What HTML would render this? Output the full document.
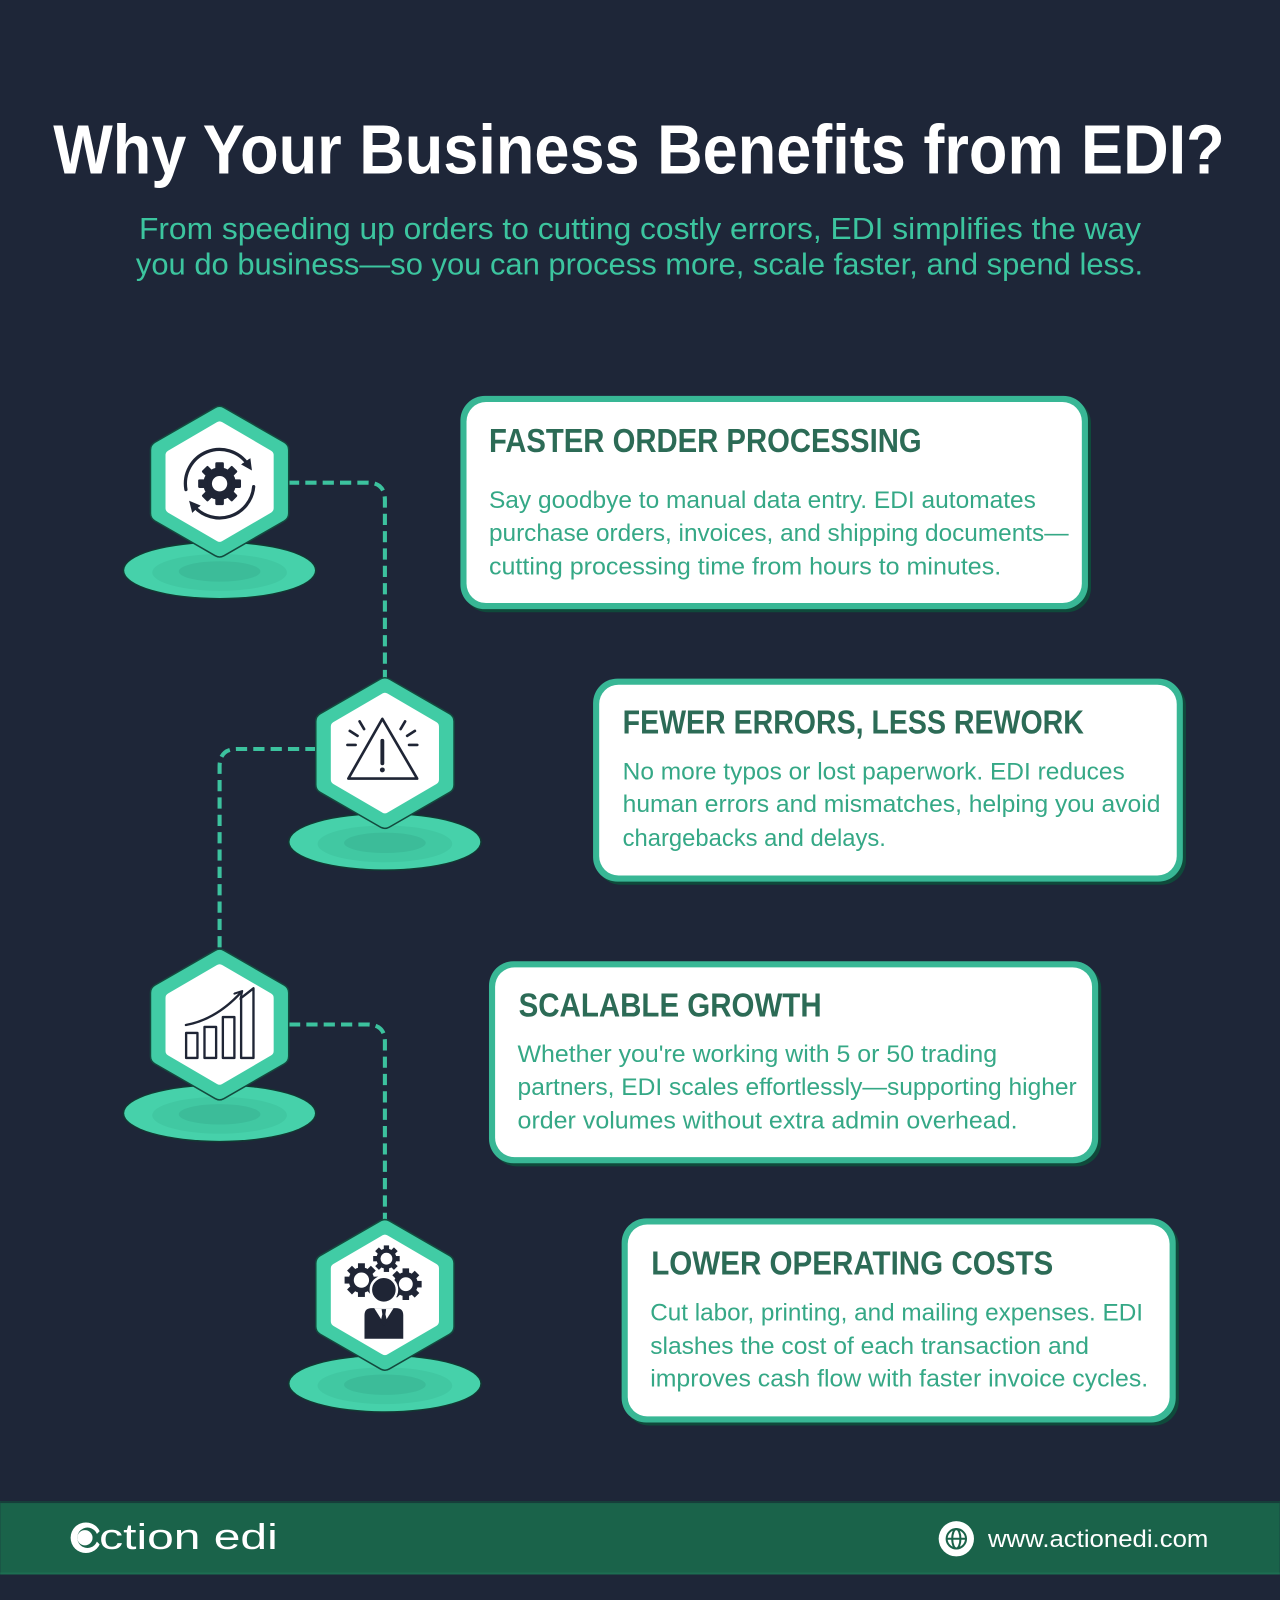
<!DOCTYPE html>
<html>
<head>
<meta charset="utf-8">
<style>
html,body{margin:0;padding:0;background:#1e2638;}
svg{display:block;}
</style>
</head>
<body>
<svg width="1280" height="1600" viewBox="0 0 1254 1568" xmlns="http://www.w3.org/2000/svg" font-family="'Liberation Sans', Arial, sans-serif">
<defs>
  <marker id="ah" markerUnits="userSpaceOnUse" markerWidth="11" markerHeight="11" refX="4" refY="5.5" orient="auto">
    <path d="M0,0 L11,5.5 L0,11 z" fill="#1f2535"/>
  </marker>
  <marker id="ah2" markerUnits="userSpaceOnUse" markerWidth="10" markerHeight="10" refX="7" refY="5" orient="auto">
    <path d="M1,1 L8,5 L1,9" fill="none" stroke="#1f2535" stroke-width="2" stroke-linejoin="round" stroke-linecap="round"/>
  </marker>
</defs>

<rect x="0" y="0" width="1254" height="1568" fill="#1e2638"/>

<!-- Title -->
<text x="52" y="170" font-size="68" font-weight="bold" fill="#ffffff" textLength="1148" lengthAdjust="spacingAndGlyphs">Why Your Business Benefits from EDI?</text>
<text x="136" y="234" font-size="30" fill="#3cc59f" textLength="982" lengthAdjust="spacingAndGlyphs">From speeding up orders to cutting costly errors, EDI simplifies the way</text>
<text x="133" y="269" font-size="30" fill="#3cc59f" textLength="987" lengthAdjust="spacingAndGlyphs">you do business—so you can process more, scale faster, and spend less.</text>

<!-- Connectors -->
<g fill="none" stroke="#3cc29e" stroke-width="4" stroke-dasharray="11 6">
  <path d="M282,473 H360 Q377,473 377,490 V664"/>
  <path d="M310,734 H232 Q215,734 215,751 V931"/>
  <path d="M283,1004 H360 Q377,1004 377,1021 V1196"/>
</g>

<!-- Node 1 -->
<g transform="translate(215,472)">
  <ellipse cx="0" cy="87" rx="95" ry="28.5" fill="#113a33"/>
  <ellipse cx="0" cy="87" rx="93.5" ry="27" fill="#46d1aa"/>
  <ellipse cx="0" cy="89" rx="66" ry="18" fill="#41c8a2"/>
  <ellipse cx="0" cy="88" rx="40" ry="10" fill="#3cbc99"/>
  <polygon points="0,-65 59,-31 59,31 0,65 -59,31 -59,-31" fill="#134a3e" stroke="#134a3e" stroke-width="19" stroke-linejoin="round"/>
  <polygon points="0,-65 59,-31 59,31 0,65 -59,31 -59,-31" fill="#41cca5" stroke="#41cca5" stroke-width="16" stroke-linejoin="round"/>
  <polygon points="0,-54 48,-26 48,26 0,54 -48,26 -48,-26" fill="#ffffff" stroke="#ffffff" stroke-width="10" stroke-linejoin="round"/>
</g>
<!-- Node 2 -->
<g transform="translate(377,738)">
  <ellipse cx="0" cy="87" rx="95" ry="28.5" fill="#113a33"/>
  <ellipse cx="0" cy="87" rx="93.5" ry="27" fill="#46d1aa"/>
  <ellipse cx="0" cy="89" rx="66" ry="18" fill="#41c8a2"/>
  <ellipse cx="0" cy="88" rx="40" ry="10" fill="#3cbc99"/>
  <polygon points="0,-65 59,-31 59,31 0,65 -59,31 -59,-31" fill="#134a3e" stroke="#134a3e" stroke-width="19" stroke-linejoin="round"/>
  <polygon points="0,-65 59,-31 59,31 0,65 -59,31 -59,-31" fill="#41cca5" stroke="#41cca5" stroke-width="16" stroke-linejoin="round"/>
  <polygon points="0,-54 48,-26 48,26 0,54 -48,26 -48,-26" fill="#ffffff" stroke="#ffffff" stroke-width="10" stroke-linejoin="round"/>
</g>
<!-- Node 3 -->
<g transform="translate(215,1004)">
  <ellipse cx="0" cy="87" rx="95" ry="28.5" fill="#113a33"/>
  <ellipse cx="0" cy="87" rx="93.5" ry="27" fill="#46d1aa"/>
  <ellipse cx="0" cy="89" rx="66" ry="18" fill="#41c8a2"/>
  <ellipse cx="0" cy="88" rx="40" ry="10" fill="#3cbc99"/>
  <polygon points="0,-65 59,-31 59,31 0,65 -59,31 -59,-31" fill="#134a3e" stroke="#134a3e" stroke-width="19" stroke-linejoin="round"/>
  <polygon points="0,-65 59,-31 59,31 0,65 -59,31 -59,-31" fill="#41cca5" stroke="#41cca5" stroke-width="16" stroke-linejoin="round"/>
  <polygon points="0,-54 48,-26 48,26 0,54 -48,26 -48,-26" fill="#ffffff" stroke="#ffffff" stroke-width="10" stroke-linejoin="round"/>
</g>
<!-- Node 4 -->
<g transform="translate(377,1269)">
  <ellipse cx="0" cy="87" rx="95" ry="28.5" fill="#113a33"/>
  <ellipse cx="0" cy="87" rx="93.5" ry="27" fill="#46d1aa"/>
  <ellipse cx="0" cy="89" rx="66" ry="18" fill="#41c8a2"/>
  <ellipse cx="0" cy="88" rx="40" ry="10" fill="#3cbc99"/>
  <polygon points="0,-65 59,-31 59,31 0,65 -59,31 -59,-31" fill="#134a3e" stroke="#134a3e" stroke-width="19" stroke-linejoin="round"/>
  <polygon points="0,-65 59,-31 59,31 0,65 -59,31 -59,-31" fill="#41cca5" stroke="#41cca5" stroke-width="16" stroke-linejoin="round"/>
  <polygon points="0,-54 48,-26 48,26 0,54 -48,26 -48,-26" fill="#ffffff" stroke="#ffffff" stroke-width="10" stroke-linejoin="round"/>
</g>

<!-- Icon 1: gear with circular arrows -->
<g fill="#1f2535">
  <g transform="translate(215,474)">
    <circle r="16"/>
    <rect x="-4.2" y="-21" width="8.4" height="9" rx="1.2"/>
    <rect x="-4.2" y="-21" width="8.4" height="9" rx="1.2" transform="rotate(45)"/>
    <rect x="-4.2" y="-21" width="8.4" height="9" rx="1.2" transform="rotate(90)"/>
    <rect x="-4.2" y="-21" width="8.4" height="9" rx="1.2" transform="rotate(135)"/>
    <rect x="-4.2" y="-21" width="8.4" height="9" rx="1.2" transform="rotate(180)"/>
    <rect x="-4.2" y="-21" width="8.4" height="9" rx="1.2" transform="rotate(225)"/>
    <rect x="-4.2" y="-21" width="8.4" height="9" rx="1.2" transform="rotate(270)"/>
    <rect x="-4.2" y="-21" width="8.4" height="9" rx="1.2" transform="rotate(315)"/>
    <circle r="7.5" fill="#ffffff"/>
  </g>
</g>
<g fill="none" stroke="#1f2535" stroke-width="3.2" stroke-linecap="round">
  <path d="M182.0,479.8 A33.5,33.5 0 0 1 242.8,455.3" marker-end="url(#ah)"/>
  <path d="M248.4,476.9 A33.5,33.5 0 0 1 189.7,496.0" marker-end="url(#ah)"/>
</g>

<!-- Icon 2: warning -->
<g fill="none" stroke="#1f2535" stroke-width="2.6" stroke-linecap="round" stroke-linejoin="round">
  <polygon points="374.5,704.5 341.2,763 408.6,763"/>
  <line x1="340.3" y1="730" x2="348.3" y2="730"/>
  <line x1="342.6" y1="716.3" x2="350.2" y2="721.1"/>
  <line x1="352.2" y1="707" x2="356.6" y2="714.5"/>
  <line x1="400.7" y1="730" x2="408.7" y2="730"/>
  <line x1="398.8" y1="721.1" x2="406.4" y2="716.3"/>
  <line x1="392.4" y1="714.5" x2="396.8" y2="707"/>
  <line x1="374.5" y1="726" x2="374.5" y2="748" stroke-width="3.8"/>
</g>
<circle cx="374.5" cy="754.5" r="2.4" fill="#1f2535"/>

<!-- Icon 3: chart -->
<g fill="none" stroke="#1f2535" stroke-width="2.3" stroke-linejoin="round">
  <rect x="182.2" y="1012.3" width="11.1" height="24.5"/>
  <rect x="200.2" y="1006.4" width="11.4" height="30.4"/>
  <rect x="218.2" y="996.7" width="11.3" height="40.1"/>
  <polygon points="236.1,1036.8 236.1,978 248.2,968.5 248.2,1036.8"/>
  <path d="M182,1004.5 Q212,999 236.5,972" stroke-linecap="round" marker-end="url(#ah2)"/>
</g>

<!-- Icon 4: person with gears -->
<g stroke="#1f2535" fill="#ffffff">
  <g transform="translate(378.5,1233.5)">
    <g fill="#1f2535" stroke="none">
      <rect x="-2.6" y="-13" width="5.2" height="6" transform="rotate(0)"/>
      <rect x="-2.6" y="-13" width="5.2" height="6" transform="rotate(45)"/>
      <rect x="-2.6" y="-13" width="5.2" height="6" transform="rotate(90)"/>
      <rect x="-2.6" y="-13" width="5.2" height="6" transform="rotate(135)"/>
      <rect x="-2.6" y="-13" width="5.2" height="6" transform="rotate(180)"/>
      <rect x="-2.6" y="-13" width="5.2" height="6" transform="rotate(225)"/>
      <rect x="-2.6" y="-13" width="5.2" height="6" transform="rotate(270)"/>
      <rect x="-2.6" y="-13" width="5.2" height="6" transform="rotate(315)"/>
    </g>
    <circle r="7.8" stroke-width="4"/>
  </g>
  <g transform="translate(354,1254.5)">
    <g fill="#1f2535" stroke="none">
      <rect x="-3.4" y="-16.5" width="6.8" height="7" transform="rotate(0)"/>
      <rect x="-3.4" y="-16.5" width="6.8" height="7" transform="rotate(45)"/>
      <rect x="-3.4" y="-16.5" width="6.8" height="7" transform="rotate(90)"/>
      <rect x="-3.4" y="-16.5" width="6.8" height="7" transform="rotate(135)"/>
      <rect x="-3.4" y="-16.5" width="6.8" height="7" transform="rotate(180)"/>
      <rect x="-3.4" y="-16.5" width="6.8" height="7" transform="rotate(225)"/>
      <rect x="-3.4" y="-16.5" width="6.8" height="7" transform="rotate(270)"/>
      <rect x="-3.4" y="-16.5" width="6.8" height="7" transform="rotate(315)"/>
    </g>
    <circle r="10" stroke-width="5"/>
  </g>
  <g transform="translate(397.5,1258.5)">
    <g fill="#1f2535" stroke="none">
      <rect x="-3.2" y="-15.5" width="6.4" height="7" transform="rotate(0)"/>
      <rect x="-3.2" y="-15.5" width="6.4" height="7" transform="rotate(45)"/>
      <rect x="-3.2" y="-15.5" width="6.4" height="7" transform="rotate(90)"/>
      <rect x="-3.2" y="-15.5" width="6.4" height="7" transform="rotate(135)"/>
      <rect x="-3.2" y="-15.5" width="6.4" height="7" transform="rotate(180)"/>
      <rect x="-3.2" y="-15.5" width="6.4" height="7" transform="rotate(225)"/>
      <rect x="-3.2" y="-15.5" width="6.4" height="7" transform="rotate(270)"/>
      <rect x="-3.2" y="-15.5" width="6.4" height="7" transform="rotate(315)"/>
    </g>
    <circle r="9.3" stroke-width="5"/>
  </g>
</g>
<path d="M356,1313 V1289 Q356,1281 364,1281 H388 Q396,1281 396,1289 V1313 Z" fill="#1f2535" stroke="#ffffff" stroke-width="2"/>
<path d="M366.5,1282 L376,1297 L385.5,1282 Z" fill="#ffffff"/>
<path d="M373.8,1283 L378.2,1283 L377.5,1288 L379.2,1295 L376,1300 L372.8,1295 L374.5,1288 Z" fill="#1f2535"/>
<circle cx="376" cy="1264" r="12.8" fill="#1f2535" stroke="#ffffff" stroke-width="2.5"/>

<!-- Boxes -->
<g>
  <rect x="454" y="391" width="615" height="209" rx="24" fill="#0f4a3b"/>
  <rect x="451" y="388" width="615" height="209" rx="24" fill="#38b795"/>
  <rect x="457" y="394" width="603" height="197" rx="19" fill="#ffffff"/>

  <rect x="584" y="668" width="578" height="199" rx="24" fill="#0f4a3b"/>
  <rect x="581" y="665" width="578" height="199" rx="24" fill="#38b795"/>
  <rect x="587" y="671" width="566" height="187" rx="19" fill="#ffffff"/>

  <rect x="482" y="945" width="597" height="198" rx="24" fill="#0f4a3b"/>
  <rect x="479" y="942" width="597" height="198" rx="24" fill="#38b795"/>
  <rect x="485" y="948" width="585" height="186" rx="19" fill="#ffffff"/>

  <rect x="612" y="1197" width="543" height="200" rx="24" fill="#0f4a3b"/>
  <rect x="609" y="1194" width="543" height="200" rx="24" fill="#38b795"/>
  <rect x="615" y="1200" width="531" height="188" rx="19" fill="#ffffff"/>
</g>

<!-- Box text -->
<g font-weight="bold" font-size="33" fill="#2c6b56">
  <text x="479" y="443" textLength="424" lengthAdjust="spacingAndGlyphs">FASTER ORDER PROCESSING</text>
  <text x="610" y="719" textLength="452" lengthAdjust="spacingAndGlyphs">FEWER ERRORS, LESS REWORK</text>
  <text x="508" y="996" textLength="297" lengthAdjust="spacingAndGlyphs">SCALABLE GROWTH</text>
  <text x="638" y="1249" textLength="394" lengthAdjust="spacingAndGlyphs">LOWER OPERATING COSTS</text>
</g>
<g font-size="23.5" fill="#35a886">
  <text x="479" y="498" textLength="536" lengthAdjust="spacingAndGlyphs">Say goodbye to manual data entry. EDI automates</text>
  <text x="479" y="530" textLength="568" lengthAdjust="spacingAndGlyphs">purchase orders, invoices, and shipping documents—</text>
  <text x="479" y="563" textLength="502" lengthAdjust="spacingAndGlyphs">cutting processing time from hours to minutes.</text>

  <text x="610" y="764" textLength="492" lengthAdjust="spacingAndGlyphs">No more typos or lost paperwork. EDI reduces</text>
  <text x="610" y="796" textLength="527" lengthAdjust="spacingAndGlyphs">human errors and mismatches, helping you avoid</text>
  <text x="610" y="829" textLength="258" lengthAdjust="spacingAndGlyphs">chargebacks and delays.</text>

  <text x="507" y="1041" textLength="470" lengthAdjust="spacingAndGlyphs">Whether you're working with 5 or 50 trading</text>
  <text x="507" y="1073" textLength="548" lengthAdjust="spacingAndGlyphs">partners, EDI scales effortlessly—supporting higher</text>
  <text x="507" y="1106" textLength="490" lengthAdjust="spacingAndGlyphs">order volumes without extra admin overhead.</text>

  <text x="637" y="1294" textLength="483" lengthAdjust="spacingAndGlyphs">Cut labor, printing, and mailing expenses. EDI</text>
  <text x="637" y="1327" textLength="430" lengthAdjust="spacingAndGlyphs">slashes the cost of each transaction and</text>
  <text x="637" y="1359" textLength="488" lengthAdjust="spacingAndGlyphs">improves cash flow with faster invoice cycles.</text>
</g>

<!-- Footer -->
<rect x="0" y="1471" width="1254" height="72" fill="#1a634a"/>
<rect x="0" y="1471" width="1254" height="2" fill="#163e3a"/>
<rect x="0" y="1541" width="1254" height="2" fill="#1d6e52"/>

<!-- logo -->
<g>
  <circle cx="84" cy="1507" r="15" fill="#ffffff"/>
  <circle cx="85.5" cy="1507" r="10" fill="#1a634a"/>
  <circle cx="83" cy="1507" r="7.5" fill="#ffffff"/>
  <polygon points="91,1507 100,1498 100,1516" fill="#1a634a"/>
</g>
<text x="97" y="1518" font-size="35" fill="#ffffff" textLength="175" lengthAdjust="spacingAndGlyphs">ction edi</text>

<!-- globe -->
<circle cx="937" cy="1508" r="17.3" fill="#ffffff"/>
<g fill="none" stroke="#1a634a" stroke-width="2">
  <circle cx="937" cy="1508" r="9.5"/>
  <ellipse cx="937" cy="1508" rx="4" ry="9.5"/>
  <line x1="927.5" y1="1508" x2="946.5" y2="1508"/>
</g>
<text x="968" y="1516" font-size="23.5" fill="#ffffff" textLength="216" lengthAdjust="spacingAndGlyphs">www.actionedi.com</text>
</svg>
</body>
</html>
